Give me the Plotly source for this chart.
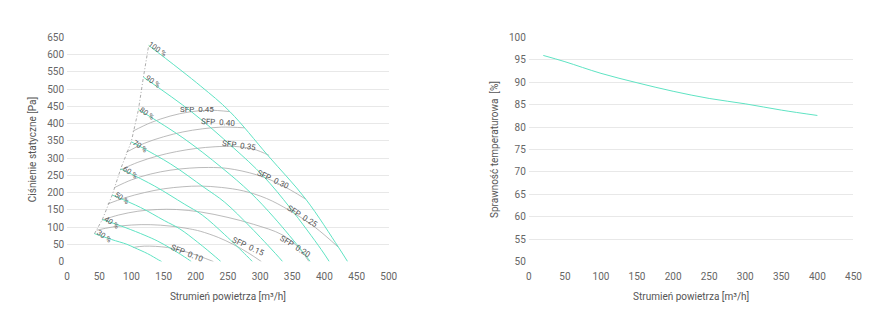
import plotly.graph_objects as go

# Fan curves (airflow m3/h, static pressure Pa) at control levels 30..100 %
fan_levels = ["30 %", "40 %", "50 %", "60 %", "70 %", "80 %", "90 %", "100 %"]
fan_x = [
    [42.5, 69, 93, 105, 125, 142, 147],
    [54.8, 90, 121, 140, 164, 187, 193],
    [70.1, 114, 151, 175, 203, 231, 239],
    [83.3, 136, 182, 210, 245, 279, 288],
    [99.7, 161, 213, 245, 285, 324, 335],
    [110.9, 180, 240, 285, 322, 366, 378],
    [118.6, 193, 258, 305, 347, 395, 407.5],
    [126.8, 207, 253, 312, 371, 422, 436],
]
fan_y = [
    [81, 64, 50, 40, 23, 5, 0],
    [122, 99, 76, 60, 35, 8, 0],
    [193, 157, 119, 95, 56, 13, 0],
    [269, 219, 167, 135, 78, 17, 0],
    [347.5, 283, 215, 172, 100, 23, 0],
    [441, 359, 273, 200, 127, 29, 0],
    [535, 435, 331, 248, 155, 35, 0],
    [627, 510, 435, 308, 181, 41, 0],
]

# Iso-SFP curves
sfp_labels = ["SFP  0.10", "SFP  0.15", "SFP  0.20", "SFP  0.25",
              "SFP  0.30", "SFP  0.35", "SFP  0.40", "SFP  0.45"]
sfp_x = [
    [102.3, 120, 156, 185, 207, 227.5],
    [46, 70, 100, 130, 160, 190, 207, 235, 258, 280, 302],
    [54, 80, 110, 140, 170, 207, 250, 290, 334, 360, 376],
    [63, 90, 120, 150, 180, 207, 240, 274, 310, 345, 385, 422],
    [74, 100, 130, 160, 190, 220, 250, 294, 330, 371],
    [83, 110, 140, 170, 200, 230, 260, 290, 314],
    [92, 120, 150, 180, 210, 240, 276],
    [102, 130, 160, 190, 220, 253],
]
sfp_y = [
    [40.8, 44.7, 40.8, 28, 14.6, 0],
    [91, 100, 106, 107, 103, 95, 88, 70, 50, 27, 0],
    [120, 135, 146, 151, 151, 144, 128, 108, 78, 40, 0],
    [167, 185, 200, 211, 217, 219, 215, 205, 183, 149, 100, 41],
    [215, 237, 254, 265, 271, 273, 270, 252, 225, 181],
    [266, 288, 306, 319, 328, 333, 334, 326, 308],
    [317, 343, 362, 376, 385, 390, 388],
    [378, 403, 422, 434, 439, 435],
]

# Curve labels: position and angle
fan_lbl_x = [58, 69, 86, 98, 113.5, 124, 133.4, 141]
fan_lbl_y = [72, 114, 184, 257, 333, 429, 522, 614]
sfp_lbl_x = [186.7, 281, 354, 365.5, 319.5, 267, 234.7, 202]
sfp_lbl_y = [24, 43, 43, 130, 238, 336, 402, 442]
sfp_lbl_angle = [22, 25, 32, 32, 25, 8, 3, 0]

# Temperature efficiency vs airflow
eff_x = [20, 50, 100, 150, 200, 250, 300, 350, 400]
eff_y = [96.0, 94.6, 92.0, 89.9, 88.0, 86.4, 85.2, 83.8, 82.6]

TEAL = "#5fe3c3"
GREY = "#aaaaaa"
FONT = "Roboto"

fig = go.Figure()

for xs, ys in zip(sfp_x, sfp_y):
    fig.add_trace(go.Scatter(x=xs, y=ys, mode="lines", line=dict(color=GREY, width=0.8, shape="spline"),
                             hoverinfo="skip", showlegend=False, xaxis="x", yaxis="y"))

for xs, ys in zip(fan_x, fan_y):
    fig.add_trace(go.Scatter(x=xs, y=ys, mode="lines", line=dict(color=TEAL, width=1, shape="spline"),
                             hoverinfo="skip", showlegend=False, xaxis="x", yaxis="y"))

# boundary through the starting points of the fan curves
fig.add_trace(go.Scatter(x=[c[0] for c in fan_x], y=[c[0] for c in fan_y], mode="lines",
                         line=dict(color="#888888", width=0.7, dash="3px,2px,1px,2px"),
                         hoverinfo="skip", showlegend=False, xaxis="x", yaxis="y"))

fig.add_trace(go.Scatter(x=eff_x, y=eff_y, mode="lines", line=dict(color=TEAL, width=1, shape="spline"),
                         hoverinfo="skip", showlegend=False, xaxis="x2", yaxis="y2"))

for t, x, y in zip(fan_levels, fan_lbl_x, fan_lbl_y):
    fig.add_annotation(x=x, y=y, xref="x", yref="y", text=t, showarrow=False, textangle=35,
                       font=dict(family=FONT, size=7.5, color="#555555"))
for t, x, y, a in zip(sfp_labels, sfp_lbl_x, sfp_lbl_y, sfp_lbl_angle):
    fig.add_annotation(x=x, y=y, xref="x", yref="y", text=t, showarrow=False, textangle=a,
                       font=dict(family=FONT, size=8, color="#555555"))

axis_common = dict(showline=False, zeroline=False, gridcolor="#e8e8e8", gridwidth=1,
                   tickfont=dict(family=FONT, size=10, color="#666666"), ticks="",
                   title_font=dict(family=FONT, size=10, color="#555555"))

fig.update_layout(
    width=895, height=333, margin=dict(l=0, r=0, t=0, b=0),
    paper_bgcolor="white", plot_bgcolor="white",
    xaxis=dict(domain=[65 / 895, 391 / 895], range=[0, 500], dtick=50, showgrid=False,
               ticklabelstandoff=7,
               title=dict(text="Strumień powietrza [m³/h]", standoff=12), **axis_common),
    yaxis=dict(domain=[0.2057, 0.8994], range=[0, 650], dtick=50, ticklabelstandoff=2,
               title=dict(text="Ciśnienie statyczne [Pa]", standoff=8), **axis_common),
    xaxis2=dict(domain=[533 / 895, 862 / 895], range=[0, 450], dtick=50, showgrid=False, anchor="y2",
                ticklabelstandoff=7,
                title=dict(text="Strumień powietrza [m³/h]", standoff=12), **axis_common),
    yaxis2=dict(domain=[0.2057, 0.8994], range=[50, 100], dtick=5, anchor="x2", ticklabelstandoff=2,
                title=dict(text="Sprawność temperaturowa  [%]", standoff=8), **axis_common),
)

fig.write_html("out.html")
